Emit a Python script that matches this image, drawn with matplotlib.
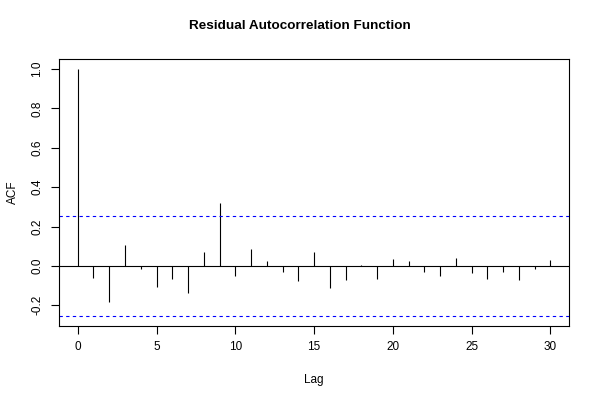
import numpy as np
import matplotlib
matplotlib.use('Agg')
import matplotlib.pyplot as plt

plt.rcParams['font.family'] = ['Liberation Sans', 'DejaVu Sans']

lags = list(range(31))
acf = [1.0, -0.063, -0.181, 0.108, -0.017, -0.108, -0.064, -0.135, 0.071, 0.318,
       -0.051, 0.085, 0.024, -0.029, -0.076, 0.069, -0.110, -0.069, 0.005, -0.064,
       0.036, 0.027, -0.032, -0.052, 0.039, -0.036, -0.064, -0.029, -0.069, -0.014,
       0.030]
conf = 0.254
xticks = [0, 5, 10, 15, 20, 25, 30]
yticks = [-0.2, 0.0, 0.2, 0.4, 0.6, 0.8, 1.0]

fig = plt.figure(figsize=(6, 4), dpi=100)
ax = fig.add_axes([0.098, 0.185, 0.851, 0.6675])

ax.vlines(lags, 0, acf, colors='black', linewidth=0.8)
ax.axhline(0, color='black', linewidth=0.8)
ax.axhline(conf, color='blue', linestyle=(0, (3, 3)), linewidth=0.8)
ax.axhline(-conf, color='blue', linestyle=(0, (3, 3)), linewidth=0.8)

ax.set_xlim(-1.2, 31.2)
ax.set_ylim(-0.305, 1.051)
ax.set_xticks(xticks)
ax.set_yticks(yticks)
ax.set_yticklabels(['%.1f' % v for v in yticks], rotation=90, va='center')
ax.tick_params(labelsize=8.5, length=6, width=0.8, pad=5)
for s in ax.spines.values():
    s.set_linewidth(0.8)

ax.set_xlabel('Lag', fontsize=8.5, labelpad=15)
ax.set_ylabel('ACF', fontsize=8.5, labelpad=9)
fig.suptitle('Residual Autocorrelation Function', fontsize=9.7, fontweight='bold', y=0.95)

fig.savefig('out.png', dpi=100)
